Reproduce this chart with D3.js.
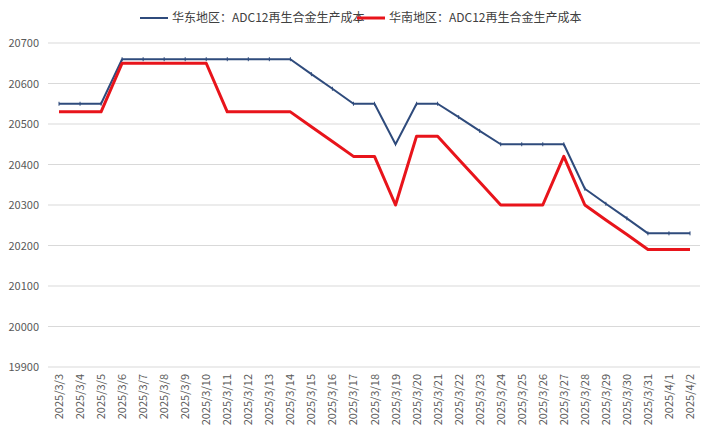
<!DOCTYPE html>
<html><head><meta charset="utf-8">
<script src="https://cdn.jsdelivr.net/npm/d3@7"></script>
<style>body{margin:0;background:#fff;font-family:"Microsoft YaHei","Noto Sans CJK SC",sans-serif}</style>
</head><body><svg id="chart" width="717" height="446"></svg>
<script>
var dates = ["2025/3/3","2025/3/4","2025/3/5","2025/3/6","2025/3/7","2025/3/8","2025/3/9","2025/3/10","2025/3/11","2025/3/12","2025/3/13","2025/3/14","2025/3/15","2025/3/16","2025/3/17","2025/3/18","2025/3/19","2025/3/20","2025/3/21","2025/3/22","2025/3/23","2025/3/24","2025/3/25","2025/3/26","2025/3/27","2025/3/28","2025/3/29","2025/3/30","2025/3/31","2025/4/1","2025/4/2"];
var eastVals = [20550,20550,20550,20660,20660,20660,20660,20660,20660,20660,20660,20660,20623,20587,20550,20550,20450,20550,20550,20517,20483,20450,20450,20450,20450,20340,20303,20267,20230,20230,20230];
var southVals = [20530,20530,20530,20650,20650,20650,20650,20650,20530,20530,20530,20530,20493,20457,20420,20420,20300,20470,20470,20413,20357,20300,20300,20300,20420,20300,20263,20227,20190,20190,20190];
var yTicks = [19900,20000,20100,20200,20300,20400,20500,20600,20700];
var seriesNames = ["华东地区：ADC12再生合金生产成本","华南地区：ADC12再生合金生产成本"];
var colors = ["#2f4b7c","#e8141b"];

var svg = d3.select("#chart");
var x = d3.scalePoint().domain(dates).range([59, 690]);
var y = d3.scaleLinear().domain([19900, 20700]).range([367, 43]);

// grid
svg.append("g").selectAll("line").data(yTicks).join("line")
  .attr("x1", 48).attr("x2", 700)
  .attr("y1", d => y(d)).attr("y2", d => y(d))
  .style("stroke", "#d9d9d9").style("stroke-width", 1);

svg.append("g").selectAll("text").data(yTicks).join("text")
  .attr("x", 39).attr("y", d => y(d) + 4)
  .attr("text-anchor", "end").style("font-size", "11px").style("fill", "#595959")
  .text(d => d);

svg.append("g").selectAll("text").data(dates).join("text")
  .attr("transform", d => "translate(" + (x(d) + 4) + ",374) rotate(-90)")
  .attr("text-anchor", "end").style("font-size", "11px").style("fill", "#595959")
  .text(d => d);

var line = d3.line().x((d, i) => x(dates[i])).y(d => y(d));
[eastVals, southVals].forEach(function(vals, k) {
  svg.append("path").datum(vals).attr("d", line)
    .style("fill", "none").style("stroke", colors[k])
    .style("stroke-width", k ? 3 : 2).style("stroke-linejoin", "round");
});
svg.append("g").selectAll("line").data(eastVals).join("line")
  .attr("x1", (d, i) => x(dates[i])).attr("x2", (d, i) => x(dates[i]))
  .attr("y1", d => y(d) - 2).attr("y2", d => y(d) + 2)
  .style("stroke", colors[0]).style("stroke-width", 1);

// legend
var lx = [140, 357];
seriesNames.forEach(function(n, k) {
  svg.append("line").attr("x1", lx[k]).attr("x2", lx[k] + 28).attr("y1", 18).attr("y2", 18)
    .style("stroke", colors[k]).style("stroke-width", k ? 3 : 2);
  svg.append("text").attr("x", lx[k] + 32).attr("y", 22)
    .style("font-size", "12px").style("fill", "#404040").text(n);
});
</script></body></html>
